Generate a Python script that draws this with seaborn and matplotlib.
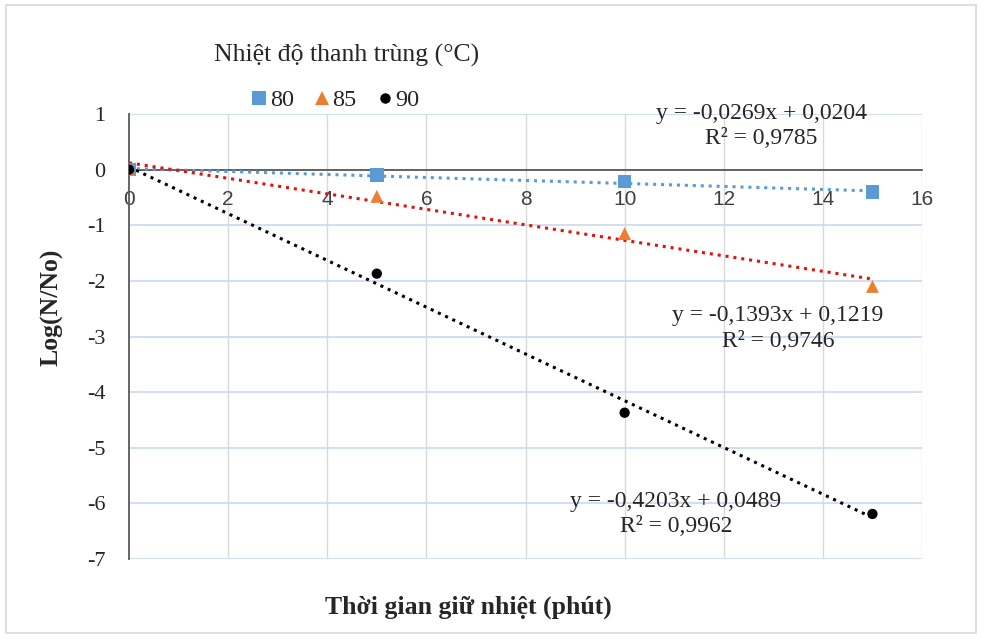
import matplotlib
matplotlib.use("Agg")
import matplotlib.pyplot as plt
import seaborn as sns
import numpy as np
import pandas as pd
from matplotlib.patches import Rectangle
from matplotlib.lines import Line2D

# ---- data ----
times = [0, 5, 10, 15]
temps = ["80", "85", "90"]
log80 = [0.0, -0.10, -0.21, -0.40]
log85 = [0.0, -0.48, -1.15, -2.10]
log90 = [0.0, -1.87, -4.37, -6.19]
slopes = [-0.0269, -0.1393, -0.4203]
intercepts = [0.0204, 0.1219, 0.0489]
eq_lines = ["y = -0,0269x + 0,0204", "y = -0,1393x + 0,1219", "y = -0,4203x + 0,0489"]
r2_lines = ["R² = 0,9785", "R² = 0,9746", "R² = 0,9962"]
xticks = [0, 2, 4, 6, 8, 10, 12, 14, 16]
yticks = [1, 0, -1, -2, -3, -4, -5, -6, -7]

marker_colors = {"80": "#5b9bd5", "85": "#ed7d31", "90": "#000000"}
line_colors = {"80": "#5b9bd5", "85": "#e0130c", "90": "#000000"}
markers = {"80": "s", "85": "^", "90": "o"}
msizes = {"80": 95, "85": 85, "90": 55}

df = pd.DataFrame({
    "t": times * 3,
    "logN": log80 + log85 + log90,
    "temp": [t for t in temps for _ in times],
})

sns.set_style("white")
plt.rcParams["font.family"] = ["Liberation Serif", "DejaVu Serif"]
plt.rcParams["axes.unicode_minus"] = False

fig = plt.figure(figsize=(9.83, 6.39), dpi=100)
ax = fig.add_axes([129/983, 1-559/639, (922-129)/983, (559-114)/639])

# trend lines
for temp, m, b in zip(temps, slopes, intercepts):
    xs = np.array([0, 15])
    ax.plot(xs, m*xs + b, linestyle=(0, (1, 1.6)), color=line_colors[temp],
            lw=2.2, zorder=3)

sns.scatterplot(data=df, x="t", y="logN", hue="temp", style="temp", size="temp",
                palette=marker_colors, markers=markers, sizes=msizes,
                edgecolor="none", ax=ax, zorder=4, legend=False)

ax.set_xlim(0, 16)
ax.set_ylim(-7, 1)
ax.set_xticks(xticks)
ax.set_yticks(yticks)

# grid
for x in xticks[1:]:
    ax.axvline(x, color="#d9d9d9", lw=1, zorder=0)
for y in yticks:
    ax.axhline(y, color="#cddcf0", lw=1.3, zorder=0)

for s in ["top", "right"]:
    ax.spines[s].set_visible(False)
ax.spines["bottom"].set_position(("data", 0))
ax.spines["bottom"].set_color("#595959")
ax.spines["left"].set_color("#595959")
ax.spines["bottom"].set_linewidth(1.3)
ax.spines["left"].set_linewidth(1.3)
ax.spines["bottom"].set_zorder(2)

ax.tick_params(axis="x", direction="out", length=6, color="#595959",
               pad=9, width=1.2)
ax.tick_params(axis="y", length=0, labelsize=16, pad=17)
ax.set_xticklabels([str(x) for x in xticks], family=["Liberation Sans", "DejaVu Sans"],
                   color="#404040", fontsize=15)

ax.set_xlabel("")
ax.set_ylabel("")
fig.text(468/983, 1-607/639, "Thời gian giữ nhiệt (phút)", ha="center", va="center",
         fontsize=18.5, fontweight="bold")
fig.text(52/983, 1-307/639, "Log(N/No)", ha="center", va="center",
         fontsize=18.5, fontweight="bold", rotation=90)

# equations
eq_pos = [(761, 114, 139), (778, 316, 342), (676, 502, 527)]
for (px, py1, py2), e, r in zip(eq_pos, eq_lines, r2_lines):
    fig.text(px/983, 1-py1/639, e, ha="center", va="center", fontsize=17)
    fig.text(px/983, 1-py2/639, r, ha="center", va="center", fontsize=17)

# legend
handles = [Line2D([], [], linestyle="none", marker=markers[t], color=marker_colors[t],
                  markersize={"80": 10, "85": 10, "90": 7.5}[t], markeredgewidth=0)
           for t in temps]
leg = fig.legend(handles, temps, ncol=3, frameon=False, fontsize=17.5,
                 loc="center", bbox_to_anchor=(335/983, 1-100/639),
                 handlelength=0.7, handletextpad=0.1, columnspacing=0.8)

fig.text(347/983, 1-55/639, "Nhiệt độ thanh trùng (°C)", ha="center", va="center",
         fontsize=18.5)

fig.patches.append(Rectangle((6/983, 6/639), 970/983, 628/639, transform=fig.transFigure,
                             fill=False, edgecolor="#d9d9d9", lw=1.2))

fig.savefig("out.png", dpi=100)
